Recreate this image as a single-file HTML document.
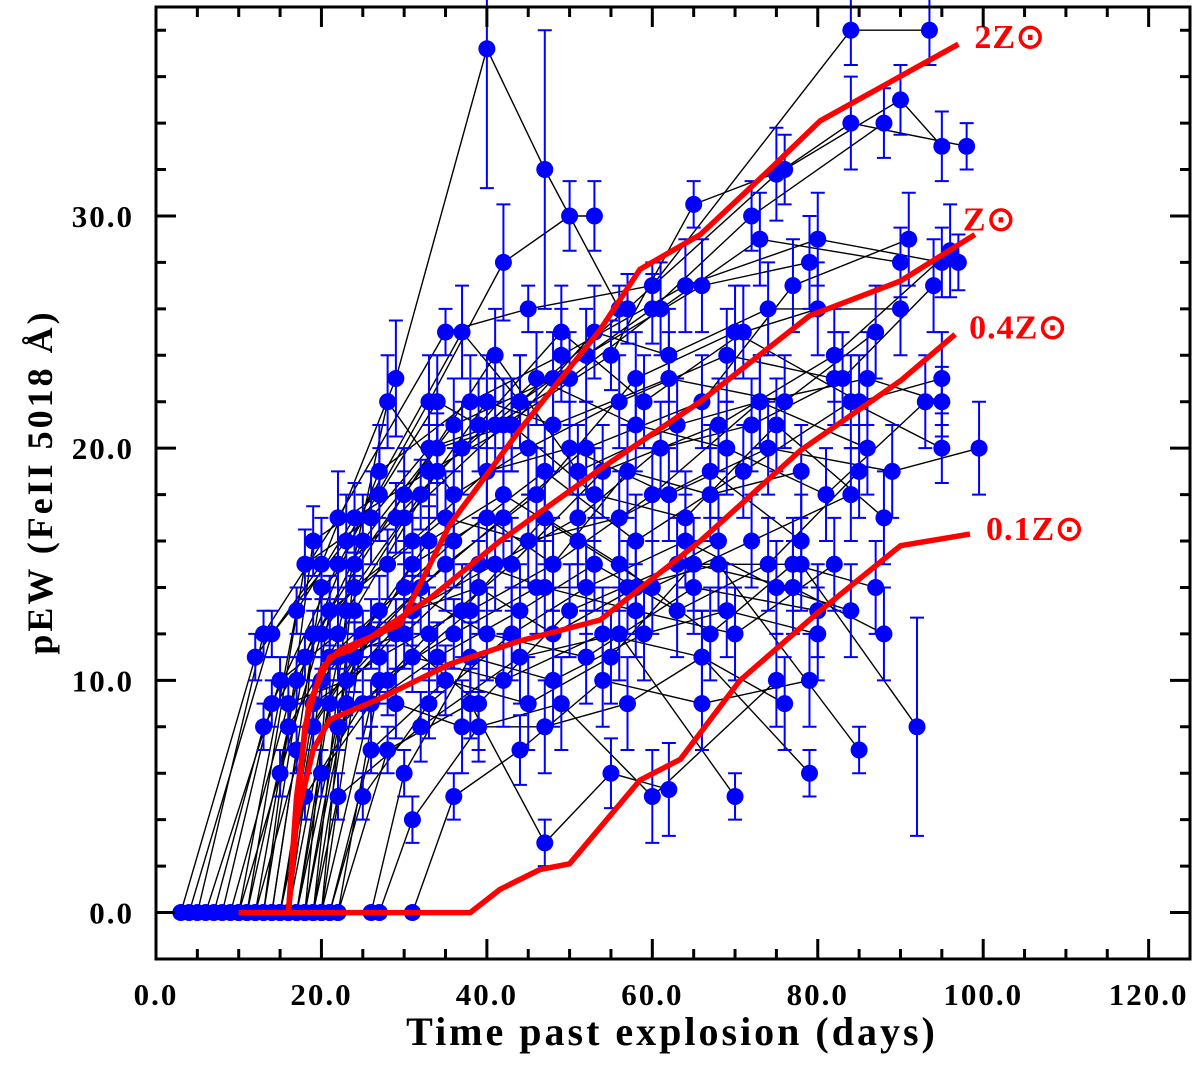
<!DOCTYPE html>
<html><head><meta charset="utf-8"><style>
html,body{margin:0;padding:0;background:#fff;}
svg{display:block;font-family:"Liberation Serif",serif;font-weight:bold;}
</style></head><body>
<svg id="chart" width="1200" height="1065" viewBox="0 0 1200 1065" xmlns="http://www.w3.org/2000/svg">
<g id="series"></g>
<g id="models"></g>
<g id="axes"></g>
<text x="672" y="1045" font-size="40" letter-spacing="3" text-anchor="middle">Time past explosion (days)</text>
<text transform="translate(52,482) rotate(-90)" font-size="36" letter-spacing="3" text-anchor="middle">pEW (FeII 5018 Å)</text>
</svg>
<script>
const xTicks=[0,20,40,60,80,100,120];
const xTickLabels=["0.0","20.0","40.0","60.0","80.0","100.0","120.0"];
const yTicks=[0,10,20,30];
const yTickLabels=["0.0","10.0","20.0","30.0"];
const modelNames=["2Z⊙","Z⊙","0.4Z⊙","0.1Z⊙"];
const model2Z=[[10,0],[16,0],[17,4],[18,8],[20,10.5],[22.2,11.3],[29.5,12.4],[35.5,16.7],[44,20.8],[53.7,25.1],[58.5,27.7],[65.8,29.2],[73,31.6],[80.3,34.1],[97,37.4]];
const modelZ=[[16,0],[17,5],[18.5,9],[21,11],[23.5,11.3],[33,13.5],[41.6,16],[53.7,19.1],[65.8,22],[79,25.7],[90,27.2],[99,29.2]];
const model04Z=[[16,0],[17,4],[19,7],[21,8.3],[27,9.2],[35.5,10.7],[44,11.7],[53.7,12.6],[65.8,16],[77.9,19.9],[90,22.9],[96.6,24.9]];
const model01Z=[[10.8,0],[38,0],[41.6,1],[46.4,1.85],[50,2.1],[58.5,5.7],[63.4,6.6],[70.6,10],[80.3,13],[90,15.8],[98.4,16.3]];
const observed=[
[[3,0,0],[12,11,1],[20,15,2],[29,23,2.5],[40,37.2,6],[47,32,6],[56,26,1]],
[[5,0,0],[13,12,1],[22,17,2],[35,25,1],[45,26,1],[60,27,1],[84,38,1.5],[93.5,38,1.5]],
[[8,0,0],[14,9,1],[22,15,2],[33,22,2],[42,28,2.5],[50,30,1.5],[53,30,1.5]],
[[10,0,0],[15,6,1],[20,12,1.5],[30,17,2],[42,21,2],[55,24,1.5],[65,30.5,1],[76,32,1.5],[90,35,1.5],[95,33,1.5]],
[[11,0,0],[16,8,1],[24,13,1.5],[34,19,2],[44,22,2],[57,26,1.5],[75,31.8,2],[84,34,2],[98,33,1]],
[[12,0,0],[17,10,1],[25,16,2],[36,21,2],[48,23,2],[60,26,1.5],[72,30,1.5],[88,34,1.5]],
[[13,0,0],[18,11,1],[27,19,2],[38,22,2],[49,24,2],[64,27,2],[80,29,2],[95,28,1.5],[97,28,1.2]],
[[14,0,0],[17,7,1],[24,11,1.5],[32,14,2],[42,17,2],[52,20,2],[66,22,2],[77,27,2],[91,29,2]],
[[15,0,0],[18,5,1],[25,9,1.5],[33,12,2],[43,15,2],[54,19,2],[68,21,2],[82,24,2],[96,28.5,2]],
[[15,0,0],[19,8,1],[26,12,1.5],[35,15,2],[46,18,2],[58,23,2],[70,25,2],[85,22,2],[95,23,2]],
[[16,0,0],[19,12,1],[24,14,1.5],[31,16,2],[40,19,2],[50,20,2],[62,18,2],[74,20,2],[89,19,2],[99.5,20,2]],
[[16,0,0],[20,10,1],[27,13,1.5],[36,16,2],[47,19,2],[58,16,2],[71,19,2],[84,22,2],[95,20,1.5]],
[[17,0,0],[20,6,1],[28,10,1.5],[38,13,2],[48,15,2],[60,18,2],[73,22,2],[86,23,2],[95,22,1.5]],
[[17,0,0],[21,9,1],[29,12,1.5],[39,9,2],[50,13,2],[63,15,2],[78,15,2],[92,8,4.7]],
[[18,0,0],[21,11,1],[30,14,1.5],[40,12,2],[52,11,2],[65,14,2],[80,13,2]],
[[18,0,0],[22,8,1],[31,11,1.5],[42,10,2],[54,12,2],[66,11,2],[79,6,1]],
[[19,0,0],[22,5,1],[32,8,1.5],[44,11,2],[56,12,2],[70,5,1]],
[[19,0,0],[23,13,1],[32,18,1.5],[40,22,2],[48,21,2],[62,23,2],[76,22,2],[87,25,2]],
[[20,0,0],[24,15,1],[34,20,1.5],[43,21,2],[53,25,2],[62,24,2],[74,26,2],[90,26,2]],
[[20,0,0],[25,12,1],[33,16,1.5],[42,18,2],[51,16,2],[60,14,2],[72,16,2],[84,18,2]],
[[21,0,0],[26,7,1],[35,10,1.5],[45,9,2],[55,11,2],[65,15,2],[77,14,2],[88,12,2]],
[[22,0,0],[27,10,1],[36,12,1.5],[46,14,2],[57,14,2],[68,15,2],[85,7,1]],
[[22,0,0],[28,7,1],[38,9,1.5],[47,3,1],[55,6,1.5],[62,5.3,2]],
[[26,0,0],[30,6,1],[38,11,1.5],[48,10,2],[59,12,2],[69,13,2],[80,12,2]],
[[27,0,0],[31,4,1],[39,8,1.5],[49,9,2],[60,5,2],[75,10,2]],
[[31,0,0],[36,5,1],[44,7,1.5],[54,10,2],[66,9,2],[79,10,2]],
[[4,0,0],[14,12,1],[23,16,2],[37,25,2],[44,22,2],[52,24,2],[66,27,2],[79,28,2]],
[[6,0,0],[15,10,1],[22,12,1.5],[28,22,2],[36,18,2],[45,20,2],[56,22,2],[69,24,2],[82,23,2]],
[[7,0,0],[13,8,1],[21,13,1.5],[30,18,2],[41,24,2],[51,19,2],[63,21,2],[73,22,2],[86,20,2]],
[[9,0,0],[16,9,1],[23,10,1.5],[31,15,2],[40,17,2],[48,15,2],[57,19,2],[67,18,2],[78,19,2]],
[[10,0,0],[17,13,1],[24,17,1.5],[33,19,2],[43,21,2],[53,18,2],[64,17,2],[75,21,2],[88,17,2]],
[[12,0,0],[19,9,1],[27,11,1.5],[37,13,2],[47,17,2],[56,15,2],[67,12,2],[77,15,2],[87,14,2]],
[[14,0,0],[20,14,1],[29,17,1.5],[37,20,2],[46,23,2],[58,21,2],[69,20,2],[81,18,2],[93,22,2]],
[[15,0,0],[21,13,1],[28,15,1.5],[35,17,2],[45,16,2],[56,17,2],[67,19,2],[78,16,2]],
[[16,0,0],[22,11,1],[30,12,1.5],[39,15,2],[47,14,2],[58,13,2],[70,12,2],[82,15,2]],
[[18,0,0],[23,9,1],[29,9,1.5],[37,8,2],[47,8,2],[57,9,2],[66,11,2],[76,9,2]],
[[19,0,0],[24,11,1],[31,13,1.5],[41,15,2],[51,17,2],[61,20,2],[72,21,2],[83,23,2],[94,27,2]],
[[21,0,0],[25,5,1],[33,9,1.5],[43,12,2],[52,14,2],[64,16,2],[75,14,2],[84,13,2]],
[[13,0,0],[19,16,1.5],[27,18,2],[34,22,2],[39,21,2],[49,25,2],[59,22,2],[71,25,2],[80,26,2]],
[[11,0,0],[18,15,1.5],[26,17,2],[33,20,2],[41,21,2],[50,23,2],[61,26,2],[73,29,2],[90,28,1.5]],
[[17,0,0],[23,10,1],[31,13,1.5],[39,14,2],[48,12,2],[58,14,2],[68,16,2]],
[[20,0,0],[26,9,1],[34,11,1.5],[44,13,2],[53,15,2],[63,13,2],[74,15,2],[85,19,2]]
];

const L=156,R=1190,T=7,B=959,X0=0,X1=125,Y0=-2,Y1=39;
function sx(v){return L+(v-X0)/(X1-X0)*(R-L);}
function sy(v){return B-(v-Y0)/(Y1-Y0)*(B-T);}
const NS="http://www.w3.org/2000/svg";
function mk(tag,attrs,parent){const e=document.createElementNS(NS,tag);for(const k in attrs)e.setAttribute(k,attrs[k]);parent.appendChild(e);return e;}

const gS=document.getElementById('series');
observed.forEach((s,i)=>{
  const pts=s.map(p=>sx(p[0]).toFixed(1)+','+sy(p[1]).toFixed(1)).join(' ');
  const pl=mk('polyline',{points:pts,fill:'none',stroke:'#000','stroke-width':1.4},gS);
  
  
});
observed.forEach((s,i)=>{
  s.forEach(p=>{
    if(p[2]>0){
      const x=sx(p[0]),y1=sy(p[1]+p[2]),y2=sy(Math.max(p[1]-p[2],Y0));
      const eb=mk('path',{d:`M${x},${y1}V${y2}M${x-7},${y1}H${x+7}M${x-7},${y2}H${x+7}`,stroke:'#0000ff','stroke-width':2,fill:'none'},gS);
      
      
    }
  });
});
observed.forEach((s,i)=>{
  s.forEach(p=>{
    const c=mk('circle',{cx:sx(p[0]),cy:sy(p[1]),r:8.5,fill:'#0000ff'},gS);
    
    
  });
});

const labelOffsets=[[16,4],[-12,-4],[14,4],[16,6]];
const gM=document.getElementById('models');
[model2Z,modelZ,model04Z,model01Z].forEach((m,i)=>{
  const pl=mk('polyline',{points:m.map(p=>sx(p[0]).toFixed(1)+','+sy(p[1]).toFixed(1)).join(' '),fill:'none',stroke:'#ff0000','stroke-width':5.5,'stroke-linejoin':'round'},gM);
  
  
  const last=m[m.length-1];
  const t=mk('text',{x:sx(last[0])+labelOffsets[i][0],y:sy(last[1])+labelOffsets[i][1],fill:'#ff0000','font-size':34,'letter-spacing':1},gM);
  t.textContent=modelNames[i];
  
  
});

const gA=document.getElementById('axes');
const fr=mk('rect',{x:L,y:T,width:R-L,height:B-T,fill:'none',stroke:'#000','stroke-width':3},gA);


let d='';
for(let v=0;v<=X1;v+=5){const x=sx(v);const len=(v%20===0)?20:10;d+=`M${x},${B}v${-len}M${x},${T}v${len}`;}
for(let v=-2;v<=Y1;v+=2){const y=sy(v);const len=(v%10===0)?20:10;d+=`M${L},${y}h${len}M${R},${y}h${-len}`;}
const tk=mk('path',{d:d,stroke:'#000','stroke-width':3,fill:'none'},gA);


xTicks.forEach((v,i)=>{
  const t=mk('text',{x:sx(v),y:1005,'font-size':31,'letter-spacing':2,'text-anchor':'middle'},gA);
  t.textContent=xTickLabels[i];
  
  
});
yTicks.forEach((v,i)=>{
  const t=mk('text',{x:134,y:sy(v)+11,'font-size':31,'letter-spacing':2,'text-anchor':'end'},gA);
  t.textContent=yTickLabels[i];
  
  
});
</script>
</body></html>
